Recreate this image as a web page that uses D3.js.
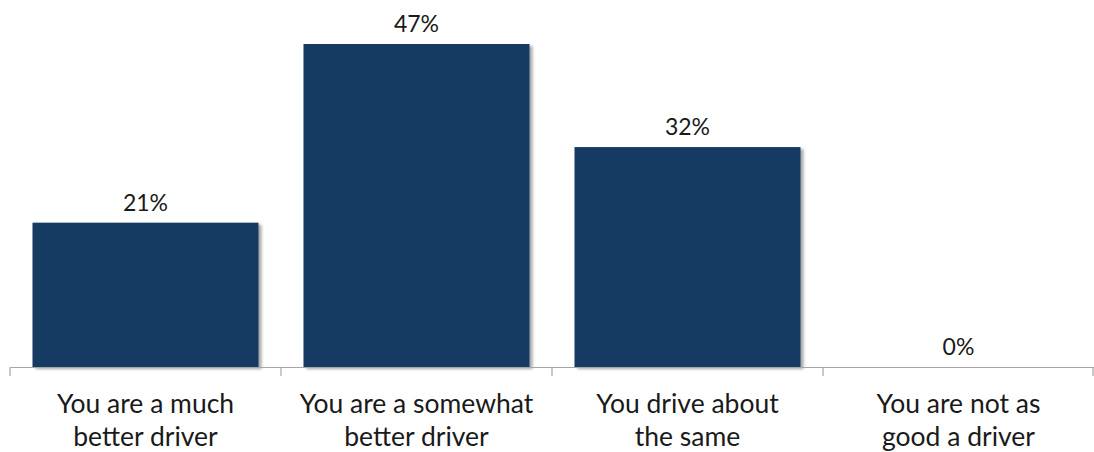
<!DOCTYPE html>
<html>
<head>
<meta charset="utf-8">
<script src="https://cdn.jsdelivr.net/npm/d3@7"></script>
<style>
  html, body { margin: 0; padding: 0; background: #fff; }
  svg { display: block; }
  text { font-family: Lato, "Open Sans", sans-serif; fill: #1a1a1a; }
</style>
</head>
<body>
<svg id="chart" width="1094" height="452"></svg>
<script>
const categories = [
  ["You are a much", "better driver"],
  ["You are a somewhat", "better driver"],
  ["You drive about", "the same"],
  ["You are not as", "good a driver"]
];
const values = [21, 47, 32, 0];
const valueLabels = ["21%", "47%", "32%", "0%"];

const W = 1094, H = 452;
const baseY = 367;

const svg = d3.select("#chart");

const defs = svg.append("defs");
const f = defs.append("filter").attr("id", "shadow")
  .attr("x", "-5%").attr("y", "-5%").attr("width", "115%").attr("height", "115%");
f.append("feDropShadow").attr("dx", 3).attr("dy", 2).attr("stdDeviation", 1.8)
  .attr("flood-color", "#000").attr("flood-opacity", 0.35);

const idx = d3.range(categories.length);
const x = d3.scaleBand().domain(idx).range([10, 1094]).paddingInner(0.166).paddingOuter(0.083);
const xOuter = d3.scaleBand().domain(idx).range([10, 1094]).padding(0);
const y = d3.scaleLinear().domain([0, 47]).range([baseY, 44]);

// bars
svg.append("g").selectAll("rect").data(idx).join("rect")
  .attr("x", i => x(i))
  .attr("y", i => y(values[i]))
  .attr("width", x.bandwidth())
  .attr("height", i => baseY - y(values[i]))
  .attr("fill", "#123a64")
  .attr("filter", i => values[i] > 0 ? "url(#shadow)" : null);

// axis
const axis = d3.axisBottom(xOuter).tickSize(0).tickFormat("");
const ag = svg.append("g").attr("transform", `translate(0,${baseY})`).call(axis);
ag.select(".domain").attr("stroke", "#a6a6a6").attr("stroke-width", 1.2);
const bounds = idx.map(i => xOuter(i)).concat([xOuter(idx.length - 1) + xOuter.bandwidth() - 1]);
ag.selectAll(".btick").data(bounds).join("line").attr("class", "btick")
  .attr("x1", d => d).attr("x2", d => d).attr("y1", 0).attr("y2", 9)
  .attr("stroke", "#a6a6a6").attr("stroke-width", 1.2);

// category labels
const lbl = svg.append("g").selectAll("text").data(idx).join("text")
  .attr("x", i => xOuter(i) + xOuter.bandwidth() / 2)
  .attr("y", 413)
  .attr("text-anchor", "middle")
  .style("font-size", "26.5px");
lbl.selectAll("tspan").data(i => categories[i]).join("tspan")
  .attr("x", function () { return d3.select(this.parentNode).attr("x"); })
  .attr("dy", (d, j) => j === 0 ? 0 : 33)
  .text(d => d);

// value labels
svg.append("g").selectAll("text").data(idx).join("text")
  .attr("x", i => x(i) + x.bandwidth() / 2)
  .attr("y", i => y(values[i]) - 12)
  .attr("text-anchor", "middle")
  .style("font-size", "23px")
  .text(i => valueLabels[i]);
</script>
</body>
</html>
